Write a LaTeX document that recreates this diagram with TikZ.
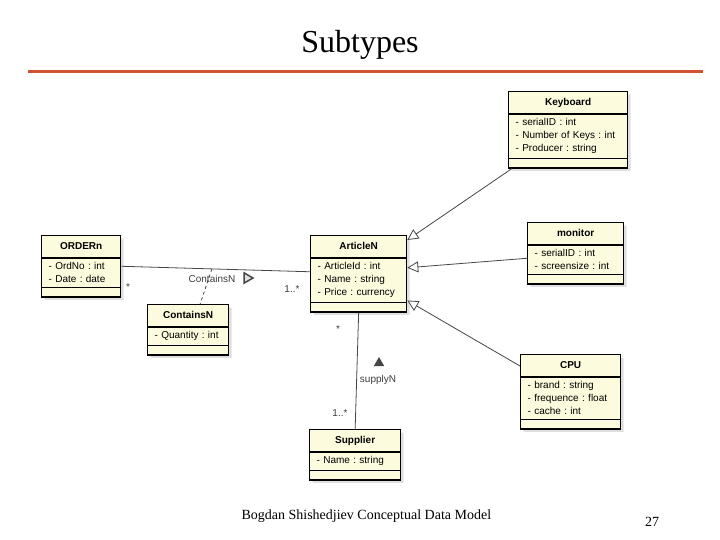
\documentclass[tikz,border=0pt]{standalone}
\usepackage{fontspec}
\setmainfont{Liberation Serif}
\setsansfont{Liberation Sans}
\usetikzlibrary{shapes.multipart,shapes.geometric,arrows.meta,shadows}
\definecolor{classfill}{RGB}{253,251,222}
\definecolor{linegrey}{RGB}{70,70,70}
\definecolor{titlered}{RGB}{212,80,50}
\definecolor{labelgrey}{RGB}{60,60,60}
\frenchspacing

\begin{document}
\begin{tikzpicture}[x=1pt,y=-1pt,
  umlclass/.style={draw=black, line width=1.3pt, fill=classfill, rectangle split, rectangle split parts=3,
    inner xsep=7pt, inner ysep=4pt, align=left, anchor=north west,
    font=\sffamily\fontsize{10}{13}\selectfont,
    drop shadow={shadow xshift=3pt, shadow yshift=-3pt, opacity=0.25}},
  genline/.style={draw=linegrey, line width=0.8pt, -{Triangle[length=11pt, width=11pt, fill=white]}},
  assocline/.style={draw=linegrey, line width=0.8pt},
  assoclabel/.style={font=\sffamily\fontsize{10}{12}\selectfont, text=labelgrey, inner sep=1pt},
  dirmark/.style={regular polygon, regular polygon sides=3, inner sep=0pt, minimum size=12pt}]
\useasboundingbox (0,0) rectangle (720,540);

% heading
\node[font=\fontsize{32}{36}\selectfont] (title) at (360,45) {Subtypes};
\draw[titlered, line width=3pt] (28,72) -- (703,72);

% classes
\node[umlclass, text width=105pt] (keyboard) at (508,91) {\hfill\textbf{Keyboard}\hfill\strut
  \nodepart{two} - serialID : int\\ - Number of Keys : int\\ - Producer : string
  \nodepart{three}};
\node[umlclass, text width=82pt] (articleN) at (310,235) {\hfill\textbf{ArticleN}\hfill\strut
  \nodepart{two} - ArticleId : int\\ - Name : string\\ - Price : currency
  \nodepart{three}};
\node[umlclass, text width=65pt] (orderN) at (41,235) {\hfill\textbf{ORDERn}\hfill\strut
  \nodepart{two} - OrdNo : int\\ - Date : date
  \nodepart{three}};
\node[umlclass, text width=67pt] (containsN) at (147,304) {\hfill\textbf{ContainsN}\hfill\strut
  \nodepart{two} - Quantity : int
  \nodepart{three}};
\node[umlclass, text width=82pt] (monitorN) at (527,222) {\hfill\textbf{monitor}\hfill\strut
  \nodepart{two} - serialID : int\\ - screensize : int
  \nodepart{three}};
\node[umlclass, text width=86pt] (cpuN) at (520,354) {\hfill\textbf{CPU}\hfill\strut
  \nodepart{two} - brand : string\\ - frequence : float\\ - cache : int
  \nodepart{three}};
\node[umlclass, text width=77pt] (supplierN) at (309,429) {\hfill\textbf{Supplier}\hfill\strut
  \nodepart{two} - Name : string
  \nodepart{three}};

% generalisations
\draw[genline] ([xshift=4pt]keyboard.south west) -- ([yshift=-5pt]articleN.north east);
\draw[genline] ([yshift=-5pt]monitorN.west) -- ([yshift=6pt]articleN.east);
\draw[genline] ([yshift=-12pt]cpuN.north west) -- ([yshift=12pt]articleN.south east);

% associations
\draw[assocline] (orderN.east) -- coordinate[pos=0.48] (assocmid) ([yshift=2pt]articleN.west);
\draw[assocline, dashed] (assocmid) -- ([xshift=12pt]containsN.north);
\draw[assocline] (articleN.south) -- (supplierN.north);

\node[assoclabel] (containsLbl) at (212,279) {ContainsN};
\node[dirmark, regular polygon rotate=-90, draw=linegrey, line width=1.5pt, fill=gray!25] (containsDir) at (247,278) {};
\node[assoclabel] (supplyLbl) at (378,380) {supplyN};
\node[dirmark, fill=linegrey] (supplyDir) at (379,363) {};

\node[assoclabel] (multOrder) at (128,287) {*};
\node[assoclabel] (multArtA) at (292,289) {1..*};
\node[assoclabel] (multArtB) at (338,329) {*};
\node[assoclabel] (multSupp) at (340,413) {1..*};

% footer
\node[font=\fontsize{14}{16}\selectfont, anchor=west] (footer) at (238,516) {Bogdan Shishedjiev Conceptual Data Model};
\node[font=\fontsize{14}{16}\selectfont] (pageno) at (652,522) {27};
\end{tikzpicture}
\end{document}
